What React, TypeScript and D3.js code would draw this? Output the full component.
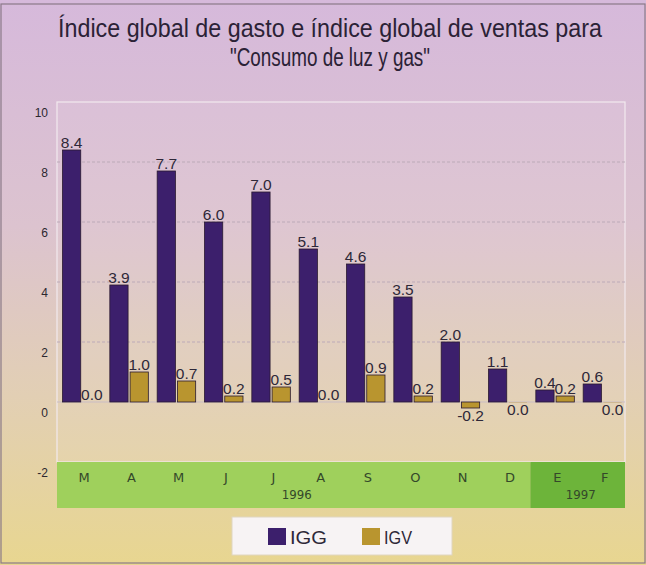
// @ts-nocheck
import React, { useEffect, useRef } from 'react';
import * as d3 from 'd3';

const months = ['M', 'A', 'M', 'J', 'J', 'A', 'S', 'O', 'N', 'D', 'E', 'F'];
const years = [
  { label: '1996', from: 0, to: 9 },
  { label: '1997', from: 10, to: 11 },
];
const seriesNames = ['IGG', 'IGV'];
const igg = [8.4, 3.9, 7.7, 6.0, 7.0, 5.1, 4.6, 3.5, 2.0, 1.1, 0.4, 0.6];
// D and F read as tiny negatives (label printed under the axis as 0.0)
const igv = [0.0, 1.0, 0.7, 0.2, 0.5, 0.0, 0.9, 0.2, -0.2, -0.01, 0.2, -0.01];
const yTicks = [-2, 0, 2, 4, 6, 8, 10];

const colors = { IGG: '#3c1f6c', IGV: '#b9952f' };

const App = () => {
  const svgRef = useRef(null);

  useEffect(() => {
    const width = 646;
    const height = 565;
    const left = 57;
    const right = 625;
    const top = 102;
    const plotBottom = 462;
    const bandBottom = 508;

    const svg = d3.select(svgRef.current);
    svg.selectAll('*').remove();

    const defs = svg.append('defs');
    const grad = defs.append('linearGradient')
      .attr('id', 'bg').attr('x1', 0).attr('y1', 0).attr('x2', 0).attr('y2', 1);
    grad.append('stop').attr('offset', '0%').attr('stop-color', '#d6b9db');
    grad.append('stop').attr('offset', '40%').attr('stop-color', '#dcc3cf');
    grad.append('stop').attr('offset', '70%').attr('stop-color', '#e2cfb4');
    grad.append('stop').attr('offset', '100%').attr('stop-color', '#e8d690');

    svg.append('rect')
      .attr('width', width).attr('height', height)
      .attr('fill', 'url(#bg)');
    svg.append('rect')
      .attr('x', 1).attr('y', 4).attr('width', width - 2).attr('height', height - 6)
      .attr('fill', 'none').attr('stroke', '#8a7a88').attr('stroke-width', 1.2);

    // title
    const title = svg.append('g')
      .attr('fill', '#2b2236')
      .attr('font-family', '"Liberation Sans Narrow", "Liberation Sans", Arial, sans-serif')
      .attr('font-size', 25)
      .attr('text-anchor', 'middle');
    title.append('text')
      .attr('x', 330).attr('y', 37)
      .attr('textLength', 544).attr('lengthAdjust', 'spacingAndGlyphs')
      .text('Índice global de gasto e índice global de ventas para');
    title.append('text')
      .attr('x', 330).attr('y', 66)
      .attr('textLength', 200).attr('lengthAdjust', 'spacingAndGlyphs')
      .text('"Consumo de luz y gas"');

    const y = d3.scaleLinear().domain([-2, 10]).range([plotBottom, top]);
    const x = d3.scaleBand().domain(d3.range(months.length)).range([left, right]);
    const xi = d3.scaleBand().domain(seriesNames).range([5.5, 44]).paddingInner(0.1);

    // plot background
    svg.append('rect')
      .attr('x', left).attr('y', top)
      .attr('width', right - left).attr('height', plotBottom - top)
      .attr('fill', '#ffffff').attr('fill-opacity', 0.06)
      .attr('stroke', '#f2eaee').attr('stroke-width', 1.2);

    // grid
    svg.append('g')
      .selectAll('line')
      .data(yTicks.filter(t => t > 0 && t < 10))
      .join('line')
      .attr('x1', left).attr('x2', right)
      .attr('y1', d => y(d)).attr('y2', d => y(d))
      .attr('stroke', '#bcaab8').attr('stroke-width', 1)
      .attr('stroke-dasharray', '3,2');

    // y tick labels
    svg.append('g')
      .attr('font-family', '"Liberation Sans", Arial, sans-serif')
      .attr('font-size', 12)
      .attr('fill', '#2c2830')
      .attr('text-anchor', 'end')
      .selectAll('text')
      .data(yTicks)
      .join('text')
      .attr('x', 48)
      .attr('y', d => y(d) + 15)
      .text(d => d);

    // category band
    years.forEach((yr, i) => {
      const x0 = x(yr.from);
      const x1 = x(yr.to) + x.bandwidth();
      svg.append('rect')
        .attr('x', x0).attr('y', plotBottom)
        .attr('width', x1 - x0).attr('height', bandBottom - plotBottom)
        .attr('fill', i === 0 ? '#9fd05c' : '#6db43a');
      svg.append('text')
        .attr('x', (x0 + x1) / 2 + 3).attr('y', 499)
        .attr('text-anchor', 'middle')
        .attr('font-family', '"DejaVu Sans", sans-serif')
        .attr('font-size', 12)
        .attr('fill', '#34482a')
        .attr('textLength', 30).attr('lengthAdjust', 'spacingAndGlyphs')
        .text(yr.label);
    });

    svg.append('g')
      .attr('font-family', '"DejaVu Sans", sans-serif')
      .attr('font-size', 13)
      .attr('fill', '#34482a')
      .attr('text-anchor', 'middle')
      .selectAll('text')
      .data(months)
      .join('text')
      .attr('x', (d, i) => x(i) + 27)
      .attr('y', 482)
      .text(d => d);

    // zero line
    svg.append('line')
      .attr('x1', left).attr('x2', right)
      .attr('y1', y(0)).attr('y2', y(0))
      .attr('stroke', '#c9bcc4').attr('stroke-width', 1);

    const rows = months.map((m, i) => ({ i, IGG: igg[i], IGV: igv[i] }));

    const groups = svg.append('g')
      .selectAll('g')
      .data(rows)
      .join('g')
      .attr('transform', d => `translate(${x(d.i)},0)`);

    const cells = groups.selectAll('g')
      .data(d => seriesNames.map(k => ({ key: k, value: d[k] })))
      .join('g');

    cells.append('rect')
      .attr('x', d => xi(d.key))
      .attr('width', xi.bandwidth())
      .attr('y', d => y(Math.max(0, d.value)))
      .attr('height', d => Math.abs(y(d.value) - y(0)))
      .attr('fill', d => colors[d.key])
      .attr('stroke', '#2a1a30')
      .attr('stroke-width', d => (Math.abs(d.value) >= 0.05 ? 0.8 : 0));

    cells.append('text')
      .attr('x', d => xi(d.key) + xi.bandwidth() / 2)
      .attr('y', d => (d.value < 0 ? y(d.value) + 13 : y(d.value) - 2))
      .attr('text-anchor', 'middle')
      .attr('font-family', '"Liberation Sans", Arial, sans-serif')
      .attr('font-size', 15.5)
      .attr('fill', '#2e2838')
      .text(d => {
        const s = d3.format('.1f')(d.value).replace('−', '-');
        return s === '-0.0' ? '0.0' : s;
      });

    // legend
    const lg = svg.append('g');
    lg.append('rect')
      .attr('x', 232).attr('y', 517).attr('width', 220).attr('height', 38)
      .attr('fill', '#f7f3f4').attr('stroke', '#e0d6c0');
    seriesNames.forEach((k, i) => {
      const lx = 268 + i * 94;
      lg.append('rect')
        .attr('x', lx).attr('y', 528).attr('width', 18).attr('height', 17)
        .attr('fill', colors[k]);
      lg.append('text')
        .attr('x', lx + 22).attr('y', 544)
        .attr('font-family', '"Liberation Sans Narrow", "Liberation Sans", Arial, sans-serif')
        .attr('font-size', 18)
        .attr('fill', '#2e2838')
        .attr('textLength', i === 0 ? 37 : 28).attr('lengthAdjust', 'spacingAndGlyphs')
        .text(k);
    });
  }, []);

  return (
    <svg
      ref={svgRef}
      width={646}
      height={565}
      style={{ position: 'absolute', left: 0, top: 0 }}
    />
  );
};

export default App;
